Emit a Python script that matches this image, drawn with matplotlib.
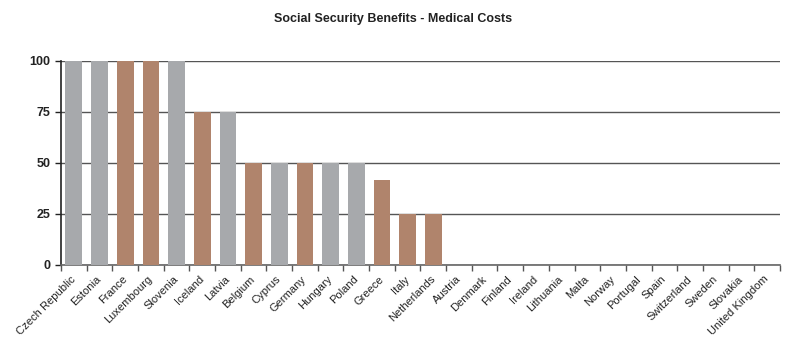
import matplotlib
matplotlib.use("Agg")
from matplotlib import pyplot as plt
import numpy as np

plt.rcParams["font.family"] = ["Liberation Sans", "DejaVu Sans"]

countries = ["Czech Republic", "Estonia", "France", "Luxembourg", "Slovenia",
             "Iceland", "Latvia", "Belgium", "Cyprus", "Germany", "Hungary",
             "Poland", "Greece", "Italy", "Netherlands", "Austria", "Denmark",
             "Finland", "Ireland", "Lithuania", "Malta", "Norway", "Portugal",
             "Spain", "Switzerland", "Sweden", "Slovakia", "United Kingdom"]
values = [100, 100, 100, 100, 100, 75, 75, 50, 50, 50, 50, 50, 41.7, 25, 25,
          0, 0, 0, 0, 0, 0, 0, 0, 0, 0, 0, 0, 0]
# g = grey, b = brown
groups = ["g", "g", "b", "b", "g", "b", "g", "b", "g", "b", "g", "g", "b", "b",
          "b", "g", "g", "g", "g", "g", "g", "g", "g", "g", "g", "g", "g", "g"]

cores = {"g": "#a7a9ac", "b": "#b0846c"}

fig = plt.figure(figsize=(7.87, 3.4), dpi=100)
ax = fig.add_axes([0.0775, 0.2206, 0.9135, 0.600])

x = np.arange(len(countries))
ax.bar(x, values, width=0.65, color=[cores[g] for g in groups], zorder=3)

ax.set_xlim(-0.5, len(countries) - 0.5)
ax.set_ylim(0, 100)
ax.set_yticks([0, 25, 50, 75, 100])
ax.tick_params(axis="y", labelsize=9, length=4, width=1, color="#222222",
               labelcolor="#222222")
for t in ax.get_yticklabels():
    t.set_fontweight("bold")
ax.yaxis.grid(True, color="#555555", linewidth=1, zorder=0)

ax.set_xticks(np.arange(len(countries) + 1) - 0.5)
ax.set_xticklabels([])
ax.set_xticks(x, minor=True)
ax.set_xticklabels(countries, minor=True, rotation=45, ha="right", va="center",
                   rotation_mode="anchor", fontsize=8, color="#222222")
ax.tick_params(axis="x", which="major", length=4, width=1, color="#555555")
ax.tick_params(axis="x", which="minor", length=0, pad=9)

for s in ["top", "right"]:
    ax.spines[s].set_visible(False)
ax.spines["left"].set_color("#222222")
ax.spines["left"].set_linewidth(1.2)
ax.spines["bottom"].set_color("#666666")
ax.spines["bottom"].set_linewidth(1.2)

fig.text(0.5, 0.935, "Social Security Benefits - Medical Costs", ha="center",
         fontsize=9, fontweight="bold", color="#222222")

fig.savefig("out.png", dpi=100)
